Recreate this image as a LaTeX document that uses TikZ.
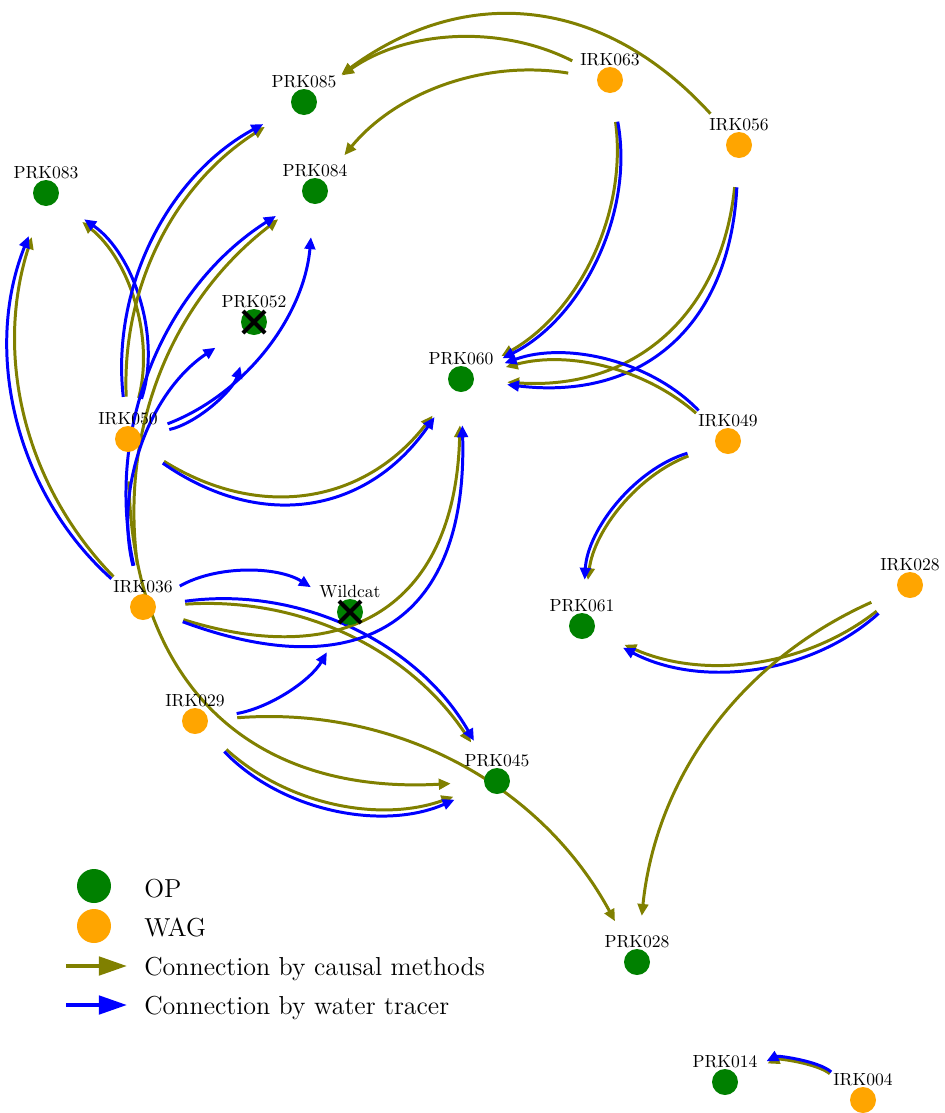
\documentclass[tikz,border=0pt]{standalone}
\usepackage{xcolor}
\usepackage{tikz}
\usetikzlibrary{arrows.meta, shapes}

\definecolor{opgreen}{HTML}{008000}
\definecolor{wagorange}{HTML}{FFA500}
\definecolor{causalc}{HTML}{808000}
\definecolor{tracerc}{HTML}{0000FF}

\pgfdeclarelayer{edges}
\pgfsetlayers{edges,main}

\tikzset{
    well/.style={circle, inner sep=0pt, minimum size=0.52cm, label distance=2.6pt,
        label={[inner sep=0pt]above:#1}},
    op/.style={well={#1}, fill=opgreen},
    wag/.style={well={#1}, fill=wagorange},
    link/.style={line width=1.7pt, -{Triangle[length=6.8pt, width=6pt]},
        shorten <=0.58cm, shorten >=0.66cm},
    causal/.style={link, draw=causalc},
    tracer/.style={link, draw=tracerc},
    plugged/.style={line width=2.3pt, black},
    keydot/.style={circle, inner sep=0pt, minimum size=0.68cm},
    keyarrow/.style={line width=2.3pt, -{Triangle[length=16pt, width=10.4pt]}},
    keytext/.style={anchor=base west, inner sep=0pt, font=\fontsize{14.8}{18}\selectfont},
}

\begin{document}
\begin{tikzpicture}[x=0.02cm, y=-0.02cm]
    \useasboundingbox (0,0) rectangle (945,1113);

    \node[op=PRK085] (p085) at (304,102) {};
    \node[op=PRK083] (p083) at (46,193) {};
    \node[op=PRK084] (p084) at (315,191) {};
    \node[op=PRK052] (p052) at (254,322) {};
    \node[op=PRK060] (p060) at (461,379) {};
    \node[op=PRK061] (p061) at (582,626) {};
    \node[op=PRK045] (p045) at (497,781) {};
    \node[op=PRK028] (p028) at (637,962) {};
    \node[op=PRK014] (p014) at (725,1082) {};
    \node[op=Wildcat] (wildcat) at (350,612) {};

    \node[wag=IRK063] (i063) at (610,80) {};
    \node[wag=IRK056] (i056) at (739,145) {};
    \node[wag=IRK049] (i049) at (728,441) {};
    \node[wag=IRK050] (i050) at (128,439) {};
    \node[wag=IRK036] (i036) at (143,607) {};
    \node[wag=IRK029] (i029) at (195,721) {};
    \node[wag=IRK028] (i028) at (910,585) {};
    \node[wag=IRK004] (i004) at (863,1100) {};

    % plugged wells
    \foreach \n in {p052, wildcat}
    {
        \draw[plugged] ([shift={(-11,-11)}]\n.center) -- ([shift={(11,11)}]\n.center);
        \draw[plugged] ([shift={(-11,11)}]\n.center) -- ([shift={(11,-11)}]\n.center);
    }

    \begin{pgfonlayer}{edges}
    \draw[causal] (i063) to[bend right=31] (p085);
    \draw[causal] (i056) to[bend right=42, looseness=1.15] (p085);
    \draw[causal] (i063) to[bend right=30] (p084);
    \draw[causal] (i063) to[bend left=34] (p060);
    \draw[tracer] (i063) to[bend left=37] (p060);
    \draw[causal] (i056) to[bend left=44, looseness=1.18] (p060);
    \draw[tracer] (i056) to[bend left=47, looseness=1.25] (p060);
    \draw[causal] (i049) to[bend right=28] (p060);
    \draw[tracer] (i049) to[bend right=33] (p060);
    \draw[causal] (i049) to[bend right=31] (p061);
    \draw[tracer] (i049) to[bend right=35] (p061);
    \draw[causal] (i028) to[bend left=31] (p061);
    \draw[tracer] (i028) to[bend left=35] (p061);
    \draw[causal] (i028) to[bend right=30] (p028);
    \draw[causal] (i004) to[bend right=31] (p014);
    \draw[tracer] (i004) to[bend right=34] (p014);

    \draw[causal] (i050) to[bend right=33] (p083);
    \draw[tracer] (i050) to[bend right=37] (p083);
    \draw[causal] (i050) to[bend left=30] (p085);
    \draw[tracer] (i050) to[bend left=34] (p085);
    \draw[tracer] (i050) to[bend right=30] (p052);
    \draw[tracer] (i050) to[bend right=32] (p084);
    \draw[causal] (i050) to[bend right=42, looseness=1.15] (p060);
    \draw[tracer] (i050) to[bend right=45, looseness=1.2] (p060);
    \draw[causal] (i050) to[bend right=46, looseness=1.23] (p045);

    \draw[causal] (i036) to[bend left=31] (p083);
    \draw[tracer] (i036) to[bend left=35] (p083);
    \draw[causal] (i036) to[bend left=30] (p084);
    \draw[tracer] (i036) to[bend left=35] (p084);
    \draw[tracer] (i036) to[bend left=35] (p052);
    \draw[tracer] (i036) to[bend left=31] (wildcat);
    \draw[causal] (i036) to[bend left=30] (p045);
    \draw[tracer] (i036) to[bend left=34] (p045);
    \draw[causal] (i036) to[bend right=53, looseness=1.41] (p060);
    \draw[tracer] (i036) to[bend right=56, looseness=1.52] (p060);

    \draw[tracer] (i029) to[bend right=25] (wildcat);
    \draw[causal] (i029) to[bend left=33] (p028);
    \draw[causal] (i029) to[bend right=31] (p045);
    \draw[tracer] (i029) to[bend right=35] (p045);
    \end{pgfonlayer}

    % legend
    \node[keydot, fill=opgreen] (kop) at (94,886) {};
    \node[keydot, fill=wagorange] (kwag) at (94,926) {};
    \coordinate (kc0) at (66,966);
    \coordinate (kc1) at (127,966);
    \coordinate (kt0) at (66,1005);
    \coordinate (kt1) at (127,1005);
    \draw[keyarrow, causalc] (kc0) -- (kc1);
    \draw[keyarrow, tracerc] (kt0) -- (kt1);
    \node[keytext] (lop) at (144,897) {OP};
    \node[keytext] (lwag) at (144,936) {WAG};
    \node[keytext] (lcausal) at (144,975) {Connection by causal methods};
    \node[keytext] (ltracer) at (144,1014) {Connection by water tracer};
\end{tikzpicture}
\end{document}
